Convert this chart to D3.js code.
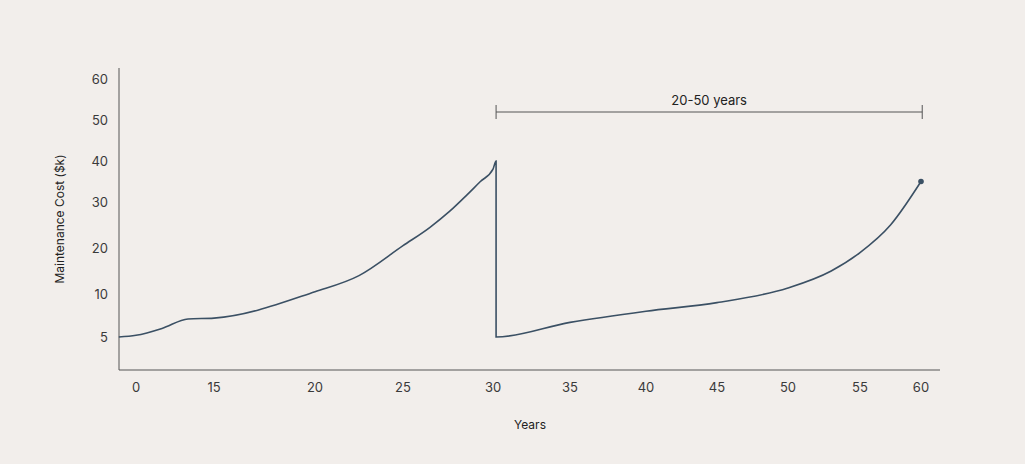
<!DOCTYPE html>
<html><head><meta charset="utf-8">
<script src="https://cdn.jsdelivr.net/npm/d3@7"></script>
<style>body{margin:0;background:#f2eeeb;}svg{display:block;font-family:Inter,"Open Sans",sans-serif;}</style>
</head><body><svg id="c" width="1025" height="464"></svg>
<script>
const xTicks=[0,15,20,25,30,35,40,45,50,55,60];
const yTicks=[5,10,20,30,40,50,60];
const seg1Years=[-3.3,0,5,10,15,20,22.5,25,26.5,27.6,28.5,29.3,30,30.2];
const seg1Cost=[5,5.2,6,7.1,7.2,10.5,14,20.5,24.5,28,31.5,35,38,40];
const seg2Years=[30.2,35,40,45,50,53,55,57.5,60];
const seg2Cost=[5,6.7,8,9,11.3,15,19,25,35];
const bracketLabel="20-50 years";

// layout: piecewise axis positions (non-uniform axes as in the reference)
const xPix=[136,214,315,403,493,570,646,717,788,860,921];
const yPix=[337,294,248,202,161,120,79];
const x=d3.scaleLinear().domain(xTicks).range(xPix);
const y=d3.scaleLinear().domain(yTicks).range(yPix);
const svg=d3.select("#c");
const ink="#3b5064", txt="#3a3a3a";
svg.append("line").attr("x1",119).attr("x2",119).attr("y1",68).attr("y2",370).attr("stroke","#555");
svg.append("line").attr("x1",119).attr("x2",940).attr("y1",370).attr("y2",370).attr("stroke","#555");
svg.append("g").selectAll("text").data(xTicks).join("text").attr("x",d=>x(d)).attr("y",392)
 .attr("text-anchor","middle").attr("font-size",13).attr("fill",txt).text(d=>d);
svg.append("g").selectAll("text").data(yTicks).join("text").attr("x",108).attr("y",d=>y(d)+5)
 .attr("text-anchor","end").attr("font-size",13).attr("fill",txt).text(d=>d);
svg.append("text").attr("transform","translate(64,219) rotate(-90)").attr("text-anchor","middle")
 .attr("font-size",12).attr("fill","#222").text("Maintenance Cost ($k)");
svg.append("text").attr("x",530).attr("y",429).attr("text-anchor","middle").attr("font-size",12).attr("fill","#222").text("Years");
const pts=seg1Years.map((v,i)=>[v,seg1Cost[i]]).concat(seg2Years.map((v,i)=>[v,seg2Cost[i]]));
svg.append("path").datum(pts).attr("fill","none").attr("stroke",ink).attr("stroke-width",1.6)
 .attr("d",d3.line().x(d=>x(d[0])).y(d=>y(d[1])).curve(d3.curveMonotoneX));
const last=pts[pts.length-1];
svg.append("circle").attr("cx",x(last[0])).attr("cy",y(last[1])).attr("r",2.8).attr("fill",ink);
const bx1=x(30.2), bx2=x(60.1), by=112;
const b=svg.append("g").attr("stroke","#555");
b.append("line").attr("x1",bx1).attr("x2",bx2).attr("y1",by).attr("y2",by);
b.append("line").attr("x1",bx1).attr("x2",bx1).attr("y1",by-7).attr("y2",by+7);
b.append("line").attr("x1",bx2).attr("x2",bx2).attr("y1",by-7).attr("y2",by+7);
svg.append("text").attr("x",(bx1+bx2)/2).attr("y",105).attr("text-anchor","middle").attr("font-size",13).attr("fill","#222").text(bracketLabel);
</script></body></html>
